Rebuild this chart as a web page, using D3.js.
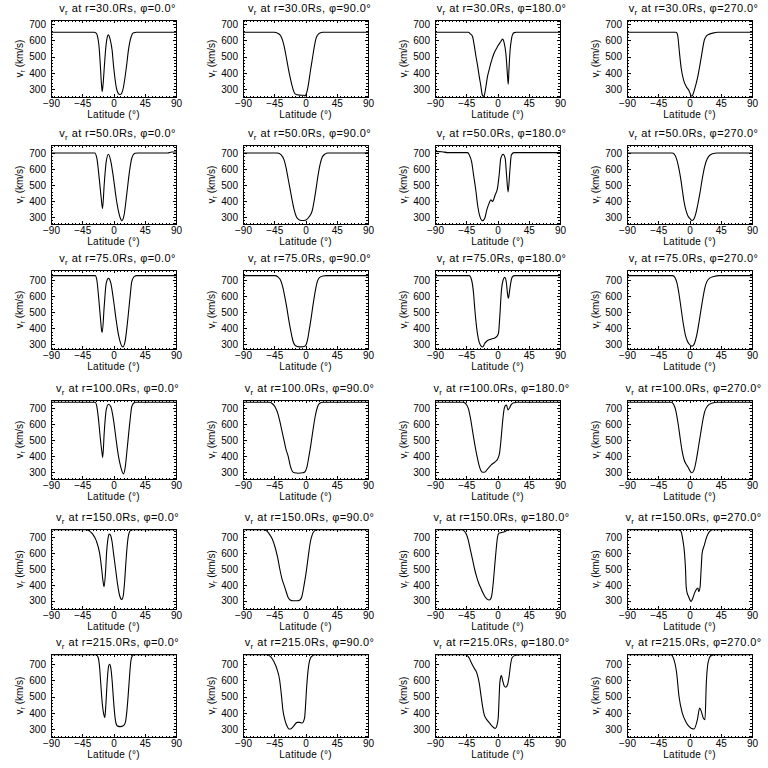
<!DOCTYPE html>
<html>
<head>
<meta charset="utf-8">
<script src="https://cdn.jsdelivr.net/npm/d3@7"></script>
<style>
  html, body { margin: 0; padding: 0; background: #fff; }
  svg { display: block; }
  text { font-family: "Liberation Sans", "DejaVu Sans", sans-serif; fill: #000; }
</style>
</head>
<body>
<svg id="chart" width="768" height="768"></svg>
<script>
// ---------- data ----------
const radii = [30, 50, 75, 100, 150, 215];
const phis = [0, 90, 180, 270];
const xTicks = [-90, -45, 0, 45, 90];
const yTicks = [300, 400, 500, 600, 700];
const yDomains = [[251, 726], [256, 752], [272, 762], [256, 752], [248, 752], [251, 763]];

// r = 30 Rs
const r30_phi0 = [[-90,650],[-28,650],[-25,645],[-23,625],[-21,570],[-19,450],[-17.5,340],[-16.3,285],[-15,330],[-13,450],[-11,560],[-9,620],[-7.5,634],[-5,610],[-2,540],[0,445],[2,370],[4,310],[6,280],[8,268],[10,266],[12,275],[14,305],[16.5,370],[19,450],[21.5,540],[24,600],[26.5,635],[29,647],[33,650],[90,650]];
const r30_phi90 = [[-90,650],[-45,650],[-40,645],[-36,630],[-33,600],[-30,550],[-27,480],[-24,410],[-21,350],[-18,300],[-15,270],[-12,265],[-6,262],[-3,262],[-1,258],[1,270],[3,300],[5,350],[7,410],[10,490],[13,570],[15,610],[17,630],[20,645],[25,650],[90,650]];
const r30_phi180 = [[-90,650],[-42,650],[-39,640],[-36,624],[-33.5,570],[-31,501],[-28.5,440],[-26.3,378],[-24,320],[-22,265],[-20.5,255],[-19,262],[-16.5,320],[-14.4,378],[-12,420],[-9.6,460],[-4.8,522],[0,562],[4.8,593],[7.2,608],[9.6,585],[12,521],[13.5,440],[15,348],[15.5,330],[16.5,420],[18.2,542],[20,605],[21.5,634],[24,648],[27,650],[90,650]];
const r30_phi270 = [[-90,650],[-20,650],[-18,645],[-16.8,624],[-14.4,522],[-12,430],[-8.6,357],[-4.8,316],[-1,292],[1,272],[2.8,256],[4.5,262],[7.2,296],[12,378],[16.7,491],[21.5,604],[24,625],[26.3,634],[33.5,645],[40.7,650],[90,650]];

// r = 50 Rs
const r50_phi0 = [[-90,702],[-27,702],[-24,669],[-20.6,544],[-17.7,419],[-15.8,352],[-13.4,502],[-10.5,648],[-7.2,694],[-3.8,648],[0,544],[3.8,419],[7.2,335],[10,290],[12,277],[14,290],[15.3,314],[19,440],[23,585],[26.3,669],[31,700],[35,702],[78,702],[84,708],[90,708]];
const r50_phi90 = [[-90,702],[-40,702],[-35,690],[-31,660],[-28,610],[-25,540],[-22,470],[-19,400],[-16,340],[-13,300],[-10,285],[-6,278],[-2,278],[2,285],[5,300],[8,320],[10,345],[12,390],[15,470],[18,560],[21,630],[24,675],[28,695],[32,702],[85,702],[90,704]];
const r50_phi180 = [[-90,712],[-80,710],[-72,704],[-43,704],[-40.7,690],[-37.3,648],[-34.5,565],[-31,460],[-28.7,377],[-25.4,304],[-21.5,277],[-18.2,294],[-15.3,346],[-12,387],[-9.6,408],[-7.2,398],[-3.3,440],[0,481],[2.4,565],[4.8,669],[8.1,694],[11,669],[13,565],[15.3,458],[17.7,585],[20,690],[23.9,704],[90,704]];
const r50_phi270 = [[-90,702],[-25,702],[-22,695],[-19,670],[-16,620],[-13,550],[-10,460],[-8,400],[-5,340],[-2,305],[1,288],[3.5,278],[6,285],[9,320],[12,380],[15,450],[18,530],[21,600],[24,650],[28,682],[33,697],[40,702],[90,702]];

// r = 75 Rs
const r75_phi0 = [[-90,727],[-26.3,727],[-24,700],[-21.5,597],[-19,473],[-16.8,380],[-16.2,376],[-13.4,535],[-10.5,680],[-7.2,710],[-3.8,680],[0,576],[3.8,453],[7.2,360],[10.5,304],[13.4,284],[16.7,319],[20,432],[23.9,597],[26.3,690],[29.7,721],[33.5,727],[90,727]];
const r75_phi90 = [[-90,727],[-44,727],[-40,720],[-36,700],[-33,660],[-30,600],[-27,530],[-24,450],[-21,380],[-18,320],[-15,295],[-12,288],[-6,285],[-2,287],[1,300],[3,330],[5,380],[8,460],[11,550],[14,630],[17,690],[20,715],[25,725],[30,727],[90,727]];
const r75_phi180 = [[-90,727],[-40.7,727],[-37.3,700],[-34.5,618],[-32.6,515],[-30.2,411],[-27.8,339],[-24.9,298],[-21.5,284],[-18.2,308],[-14.4,325],[-9.6,333],[-4.8,339],[-1,350],[1.4,370],[3.3,473],[5.7,638],[8.1,700],[10.5,716],[12.9,680],[14.5,610],[15.8,587],[17,620],[19,680],[21.5,720],[24.9,727],[90,727]];
const r75_phi270 = [[-90,727],[-24,727],[-21,715],[-18,680],[-15,610],[-12,520],[-9,430],[-6,360],[-3,320],[0,300],[3,290],[5,292],[7,305],[10,350],[13,420],[16,500],[19,580],[22,650],[25,690],[29,712],[35,722],[42,727],[90,727]];

// r = 100 Rs
const r100_phi0 = [[-90,738],[-26.3,738],[-24,710],[-21.5,627],[-19,512],[-16.8,429],[-15.5,392],[-13.4,544],[-10.5,690],[-7.2,725],[-3.8,710],[0,627],[3.8,502],[7.2,398],[10.5,331],[14.4,288],[16.7,325],[20,460],[23.9,627],[26.3,710],[29.7,735],[32,738],[90,738]];
const r100_phi90 = [[-90,738],[-52,738],[-48,730],[-44,710],[-40,670],[-37,620],[-34,560],[-31,500],[-28,440],[-25,400],[-22,340],[-19,305],[-16,295],[-10,292],[-4,295],[-1,300],[2,330],[5,400],[8,480],[11,570],[14,650],[17,705],[20,730],[25,738],[90,738]];
const r100_phi180 = [[-90,738],[-50,738],[-46,730],[-42,700],[-39,640],[-36,560],[-33,480],[-30,410],[-27,350],[-24,310],[-21,298],[-18,300],[-15,315],[-12,330],[-9,345],[-6,355],[-3,365],[0,380],[3,420],[5,500],[7,600],[9,680],[11,715],[13,720],[15,690],[17,700],[20,725],[24,735],[28,738],[90,738]];
const r100_phi270 = [[-90,738],[-26,738],[-23,725],[-20,690],[-17,620],[-14,530],[-11,440],[-8,380],[-5,350],[-2,330],[1,305],[3,295],[5,300],[7,320],[10,380],[13,460],[16,540],[19,620],[22,680],[26,715],[32,732],[40,738],[90,738]];

// r = 150 Rs
const r150_phi0 = [[-90,748],[-40,748],[-35,740],[-30,720],[-25,680],[-20,600],[-17,500],[-15,420],[-13.5,388],[-11.5,480],[-10,600],[-8,690],[-6,720],[-4,710],[-2,670],[0,600],[3,500],[6,400],[9,330],[12,308],[14,330],[16,420],[18,550],[20,660],[22,720],[25,745],[28,748],[90,748]];
const r150_phi90 = [[-90,748],[-60,748],[-56,740],[-52,720],[-48,690],[-44,640],[-40,570],[-37,500],[-34,440],[-31,400],[-28,360],[-25,320],[-22,305],[-18,300],[-12,300],[-8,305],[-5,330],[-2,400],[1,480],[4,580],[7,670],[10,720],[13,740],[17,748],[90,748]];
const r150_phi180 = [[-90,748],[-52,748],[-48,740],[-45,720],[-42,680],[-39,620],[-36,560],[-33,500],[-30,450],[-27,410],[-24,380],[-21,350],[-18,325],[-15,310],[-12,305],[-10,310],[-8,340],[-6,420],[-4,520],[-2,620],[0,700],[2,725],[6,730],[10,735],[14,745],[18,748],[90,748]];
const r150_phi270 = [[-90,748],[-14.4,748],[-12,735],[-9.6,683],[-7.2,600],[-5.7,495],[-4.8,390],[-3.3,348],[-1.4,327],[1,302],[2.4,296],[4.8,317],[7.2,348],[9.6,369],[12,380],[13.4,358],[15.3,390],[16.7,495],[18.2,600],[21.5,652],[24.9,704],[28.7,735],[33.5,748],[90,748]];

// r = 215 Rs
const r215_phi0 = [[-90,758],[-25,758],[-22,740],[-20,680],[-18,560],[-16,450],[-14,390],[-12.5,370],[-11,450],[-9,600],[-7,690],[-5.5,700],[-4,680],[-2,600],[0,480],[2,380],[4,330],[6,318],[10,315],[14,320],[17,340],[19,400],[21,500],[23,620],[25,720],[27,750],[30,758],[90,758]];
const r215_phi90 = [[-90,758],[-55,758],[-50.3,747],[-45.5,716],[-40.7,665],[-37.3,604],[-34.5,501],[-32.6,419],[-29.7,357],[-26.3,316],[-23.9,300],[-21.5,300],[-16.8,320],[-12,341],[-8.6,341],[-4.8,337],[-1.4,367],[0,440],[1.4,542],[3.8,665],[6.2,727],[9.6,751],[14.4,758],[90,758]];
const r215_phi180 = [[-90,758],[-45.5,758],[-40.7,737],[-37.3,706],[-33.5,675],[-29.7,645],[-26.3,583],[-23.9,511],[-21.5,440],[-19.1,388],[-16.8,367],[-13.4,347],[-9.6,327],[-5.7,310],[-3.3,304],[-1,320],[1,367],[2.4,501],[3.3,583],[4.8,624],[5.7,630],[7.2,604],[9.6,567],[12,558],[14.4,573],[16.7,624],[19.1,706],[21.5,743],[26.3,755],[33.5,758],[90,758]];
const r215_phi270 = [[-90,758],[-27,758],[-22.3,727],[-18.5,645],[-15.1,501],[-10.3,398],[-5.5,347],[-0.7,316],[3,303],[6.5,300],[11.3,357],[14.6,429],[17,409],[19.9,368],[22.3,357],[24.2,583],[26.6,706],[30.5,751],[37.7,758],[90,758]];

const panelData = [
  [r30_phi0, r30_phi90, r30_phi180, r30_phi270],
  [r50_phi0, r50_phi90, r50_phi180, r50_phi270],
  [r75_phi0, r75_phi90, r75_phi180, r75_phi270],
  [r100_phi0, r100_phi90, r100_phi180, r100_phi270],
  [r150_phi0, r150_phi90, r150_phi180, r150_phi270],
  [r215_phi0, r215_phi90, r215_phi180, r215_phi270]
];

// ---------- layout ----------
const colW = 192;
const boxLeft = 51, boxRight = 176;
const boxTops = [20, 145, 270, 400, 529, 654];
const boxBottoms = [97, 224, 349, 479, 609, 737];

const svg = d3.select("#chart");
svg.append("rect").attr("width", 768).attr("height", 768).attr("fill", "#fff");

const line = d3.line().curve(d3.curveMonotoneX);

radii.forEach((r, ri) => {
  phis.forEach((phi, ci) => {
    const x0 = ci * colW + boxLeft, x1 = ci * colW + boxRight;
    const y0 = boxTops[ri], y1 = boxBottoms[ri];
    const x = d3.scaleLinear().domain([-90, 90]).range([x0, x1]);
    const y = d3.scaleLinear().domain(yDomains[ri]).range([y1, y0]);
    const g = svg.append("g");

    const cid = `clip-${ri}-${ci}`;
    g.append("clipPath").attr("id", cid).append("rect")
      .attr("x", x0).attr("y", y0 - 0.5).attr("width", x1 - x0).attr("height", y1 - y0 + 1);

    g.append("path")
      .datum(panelData[ri][ci])
      .attr("clip-path", `url(#${cid})`)
      .attr("fill", "none").attr("stroke", "#000").attr("stroke-width", 1.1)
      .attr("d", line.x(d => x(d[0])).y(d => y(d[1])));

    const xMinor = d3.range(-90, 90.001, 5).filter(v => v % 45 !== 0);
    const yMinor = d3.range(Math.ceil(yDomains[ri][0] / 20) * 20, yDomains[ri][1], 20).filter(v => v % 100 !== 0);

    const bottomAxis = d3.axisBottom(x).tickValues(xTicks).tickSize(-3).tickFormat(d3.format("d")).tickPadding(3);
    const bottomMinor = d3.axisBottom(x).tickValues(xMinor).tickSize(-1.5).tickFormat("");
    const topAxis = d3.axisTop(x).tickValues(xTicks).tickSize(-3).tickFormat("");
    const topMinor = d3.axisTop(x).tickValues(xMinor).tickSize(-1.5).tickFormat("");
    const leftAxis = d3.axisLeft(y).tickValues(yTicks).tickSize(-3.5).tickFormat(d3.format("d")).tickPadding(5);
    const leftMinor = d3.axisLeft(y).tickValues(yMinor).tickSize(-2).tickFormat("");
    const rightAxis = d3.axisRight(y).tickValues(yTicks).tickSize(-3.5).tickFormat("");
    const rightMinor = d3.axisRight(y).tickValues(yMinor).tickSize(-2).tickFormat("");

    const mk = (axis, tr) => {
      const a = g.append("g").attr("transform", tr).call(axis);
      a.select(".domain").remove();
      a.selectAll("line").attr("stroke", "#000").attr("shape-rendering", "crispEdges");
      a.selectAll("text").attr("font-size", 10).attr("fill", "#000");
      return a;
    };
    mk(bottomAxis, `translate(0,${y1})`);
    mk(bottomMinor, `translate(0,${y1})`);
    mk(topAxis, `translate(0,${y0})`);
    mk(topMinor, `translate(0,${y0})`);
    mk(leftAxis, `translate(${x0},0)`);
    mk(leftMinor, `translate(${x0},0)`);
    mk(rightAxis, `translate(${x1},0)`);
    mk(rightMinor, `translate(${x1},0)`);

    g.append("rect").attr("x", x0).attr("y", y0).attr("width", x1 - x0).attr("height", y1 - y0)
      .attr("fill", "none").attr("stroke", "#000").attr("stroke-width", 1).attr("shape-rendering", "crispEdges");

    // title
    const cx = (x0 + x1) / 2 + 4;
    const t = g.append("text").attr("x", cx).attr("y", y0 - 8).attr("text-anchor", "middle")
      .attr("font-size", 11).attr("letter-spacing", 0.4);
    t.append("tspan").text("v");
    t.append("tspan").attr("font-size", 8).attr("dy", 2.5).text("r");
    t.append("tspan").attr("dy", -2.5).text(` at r=${r.toFixed(1)}Rs, \u03C6=${phi.toFixed(1)}\u00B0`);

    // x label
    g.append("text").attr("x", (x0 + x1) / 2).attr("y", y1 + 21).attr("text-anchor", "middle")
      .attr("font-size", 10).attr("letter-spacing", 0.3).text("Latitude (\u00B0)");

    // y label
    const yl = g.append("text").attr("transform", `translate(${ci * colW + 23},${(y0 + y1) / 2}) rotate(-90)`)
      .attr("text-anchor", "middle").attr("font-size", 10);
    yl.append("tspan").text("v");
    yl.append("tspan").attr("font-size", 7).attr("dy", 2).text("r");
    yl.append("tspan").attr("dy", -2).text(" (km/s)");
  });
});
</script>
</body>
</html>
